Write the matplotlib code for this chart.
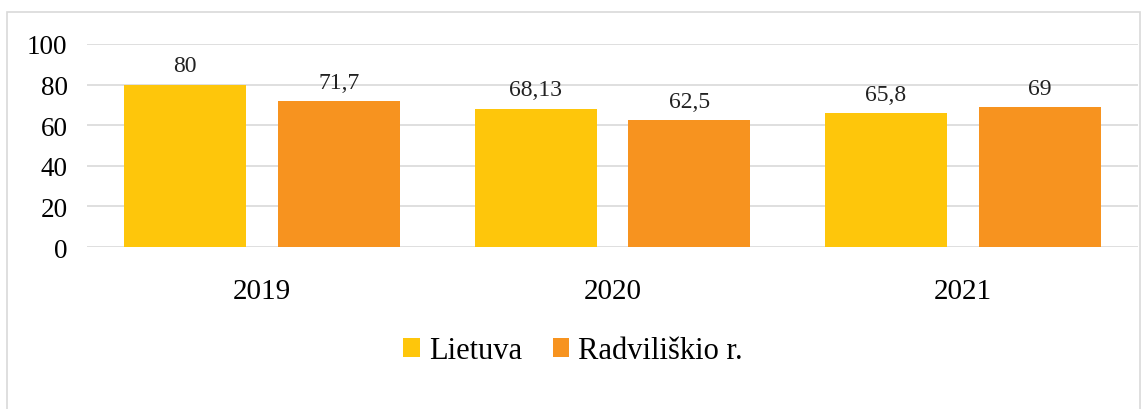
import numpy as np
import matplotlib.pyplot as plt
from matplotlib.patches import Rectangle

years = ['2019', '2020', '2021']
lietuva = [80, 68.13, 65.8]
radviliskio = [71.7, 62.5, 69]
lietuva_labels = ['80', '68,13', '65,8']
radviliskio_labels = ['71,7', '62,5', '69']

plt.rcParams['font.family'] = ['Liberation Serif', 'DejaVu Serif']

fig = plt.figure(figsize=(11.46, 4.10), dpi=100)
fig.patches.append(Rectangle((7 / 1146, -0.1), 1133 / 1146, 1.1 - 13 / 410,
                             transform=fig.transFigure, fill=False,
                             edgecolor='#d9d9d9', linewidth=1.2))
ax = fig.add_axes([87 / 1146, 162 / 410, 1051 / 1146, 203 / 410])

x = np.arange(len(years))
w = 0.348
off = 0.2195
b1 = ax.bar(x - off, lietuva, w, color='#fec60b', label='Lietuva', zorder=3)
b2 = ax.bar(x + off, radviliskio, w, color='#f7931f', label='Radviliškio r.', zorder=3)

for bars, labs in [(b1, lietuva_labels), (b2, radviliskio_labels)]:
    for rect, lab in zip(bars, labs):
        ax.annotate(lab, (rect.get_x() + rect.get_width() / 2, rect.get_height()),
                    xytext=(0, 6), textcoords='offset points',
                    ha='center', va='bottom', fontsize=17, color='#222222')

ax.set_xlim(-0.5, 2.5)
ax.set_ylim(0, 100)
ax.set_yticks(range(0, 101, 20))
ax.set_xticks(x)
ax.set_xticklabels(years, fontsize=21)
ax.tick_params(axis='x', length=0, pad=22)
ax.tick_params(axis='y', length=0, pad=14, labelsize=19.5)
ax.grid(axis='y', color='#d9d9d9', linewidth=1.2, zorder=0)
for s in ax.spines.values():
    s.set_visible(False)

fig.legend(loc='center', bbox_to_anchor=(573 / 1146, 58 / 410), ncol=2,
           frameon=False, fontsize=22, handlelength=0.55, handleheight=0.55,
           handletextpad=0.3, columnspacing=1.0)

plt.savefig('out.png', dpi=100)
